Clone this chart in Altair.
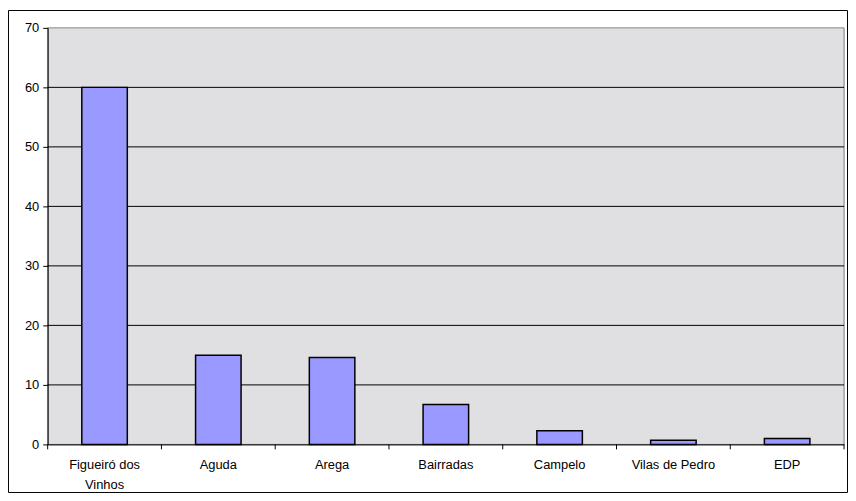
import altair as alt
import pandas as pd

categories = ["Figueiró dos Vinhos", "Aguda", "Arega", "Bairradas", "Campelo", "Vilas de Pedro", "EDP"]
values = [60, 15, 14.6, 6.7, 2.3, 0.7, 1.0]
y_ticks = [0, 10, 20, 30, 40, 50, 60, 70]

df = pd.DataFrame({"cat": categories, "val": values})
grid_df = pd.DataFrame({"g": y_ticks[1:-1]})
one = pd.DataFrame({"k": [0]})

W, H = 803, 420
FONT = "Liberation Sans"

x_scale = alt.Scale(paddingInner=0, paddingOuter=0)
y_scale = alt.Scale(domain=[0, 70], nice=False)

plot_bg = alt.Chart(one).mark_rect(fill="#E0E0E2", stroke="#888888", strokeWidth=1).encode(
    x=alt.value(0), x2=alt.value(W), y=alt.value(0), y2=alt.value(H)
)

grid = alt.Chart(grid_df).mark_rule(color="black", strokeWidth=1).encode(
    y=alt.Y("g:Q", scale=y_scale),
    x=alt.value(0), x2=alt.value(W),
)

bars = alt.Chart(df).mark_bar(
    fill="#9999FF", stroke="black", strokeWidth=1.5,
    width=alt.RelativeBandSize(0.4)
).encode(
    x=alt.X("cat:N", sort=None, scale=x_scale, title=None,
            axis=alt.Axis(labelAngle=0, ticks=False, domain=True, domainColor="black",
                          domainWidth=1, labelFont=FONT, labelFontSize=13,
                          labelColor="black", labelPadding=20, labelLineHeight=20,
                          labelBaseline="middle", zindex=1,
                          labelExpr="datum.value == 'Figueiró dos Vinhos' ? ['Figueiró dos', 'Vinhos'] : datum.label")),
    y=alt.Y("val:Q", title=None, scale=y_scale,
            axis=alt.Axis(values=y_ticks, grid=False,
                          domainColor="black", tickColor="black", tickSize=5,
                          labelFont=FONT, labelFontSize=13, labelColor="black",
                          labelPadding=4, zindex=1)),
)

ticks = alt.Chart(df).mark_rule(color="black", strokeWidth=1).encode(
    x=alt.X("cat:N", sort=None, bandPosition=0),
    y=alt.value(H),
    y2=alt.value(H + 5),
)

end_tick = alt.Chart(one).mark_rule(color="black", strokeWidth=1).encode(
    x=alt.value(W), y=alt.value(H), y2=alt.value(H + 5)
)

border = alt.Chart(one).mark_rect(
    fillOpacity=0, stroke="black", strokeWidth=1
).encode(
    x=alt.value(-39.5), x2=alt.value(W + 3.5),
    y=alt.value(-17.5), y2=alt.value(H + 48.5)
)

chart = alt.layer(plot_bg, grid, bars, ticks, end_tick, border).properties(
    width=W, height=H,
    autosize=alt.AutoSizeParams(type="none"),
    padding={"left": 40, "top": 18, "right": 4, "bottom": 50},
).configure_view(
    stroke=None
).configure(background="white")

chart.save("out.html", embed_options={"renderer": "svg", "actions": False})
